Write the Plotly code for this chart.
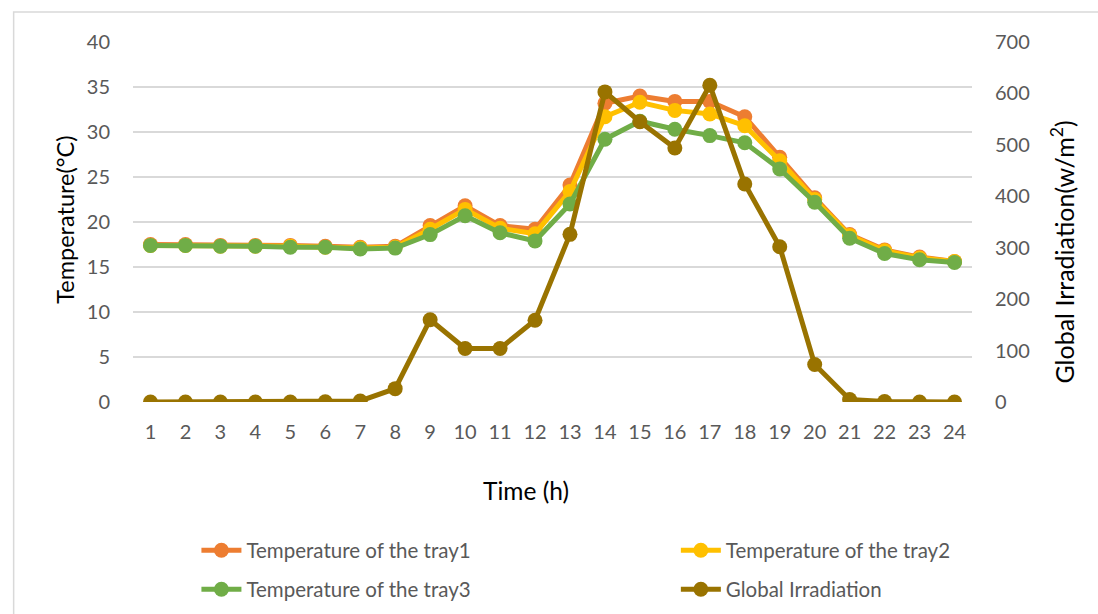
import plotly.graph_objects as go

hours = list(range(1, 25))
tray1 = [17.5, 17.5, 17.4, 17.4, 17.4, 17.3, 17.2, 17.3, 19.6, 21.8, 19.6, 19.2,
         24.1, 33.2, 34.0, 33.4, 33.4, 31.7, 27.2, 22.7, 18.6, 16.9, 16.1, 15.6]
tray2 = [17.4, 17.4, 17.3, 17.3, 17.3, 17.2, 17.1, 17.2, 19.2, 21.4, 19.3, 18.7,
         23.4, 31.7, 33.3, 32.4, 32.0, 30.7, 26.8, 22.5, 18.5, 16.8, 16.0, 15.6]
tray3 = [17.4, 17.4, 17.3, 17.3, 17.2, 17.2, 17.0, 17.1, 18.6, 20.7, 18.8, 17.9,
         22.0, 29.2, 31.2, 30.3, 29.6, 28.8, 25.9, 22.2, 18.2, 16.5, 15.8, 15.5]
irradiation = [0, 0, 0, 0, 0, 0.5, 2, 26, 160, 104, 104, 159,
               326, 603, 545, 494, 616, 424, 302, 73, 5, 1, 0, 0]

FONT = "Lato, 'Open Sans', sans-serif"
GRAY = "#595959"

W, H = 1098, 614
L, R, T, B = 132.5, 125.5, 42, 212.3
pw = W - L - R
ph = H - T - B
def px(x):
    return (x - L) / pw
def py(y):
    return (H - B - y) / ph

fig = go.Figure()

def add(name, y, color, legend, axis="y"):
    fig.add_trace(go.Scatter(
        x=hours, y=y, name=name, mode="lines+markers", yaxis=axis,
        line=dict(color=color, width=5),
        marker=dict(color=color, size=15),
        legend=legend,
    ))

add("Temperature of the tray1", tray1, "#ED7D31", "legend")
add("Temperature of the tray2", tray2, "#FFC000", "legend2")
add("Temperature of the tray3", tray3, "#70AD47", "legend3")
add("Global Irradiation", irradiation, "#997300", "legend4", "y2")

def leg(x, y):
    return dict(x=px(x), y=py(y), xanchor="left", yanchor="middle",
                xref="paper", yref="paper", bgcolor="rgba(0,0,0,0)",
                itemwidth=40,
                font=dict(family=FONT, size=20.5, color=GRAY))

fig.update_layout(
    width=W, height=H,
    margin=dict(l=L, r=R, t=T, b=B, autoexpand=False),
    paper_bgcolor="white", plot_bgcolor="white",
    font=dict(family=FONT, color=GRAY, size=20),
    showlegend=True,
    legend=leg(196, 550),
    legend2=leg(676, 550),
    legend3=leg(196, 589),
    legend4=leg(676, 589),
    xaxis=dict(
        range=[0.5, 24.5], tickmode="array", tickvals=hours,
        ticktext=[str(h) for h in hours],
        showgrid=False, zeroline=False, showline=False,
        ticks="", ticklabelstandoff=16, automargin=False,
        tickfont=dict(size=20, color=GRAY),
    ),
    yaxis=dict(
        range=[0, 40], dtick=5, showgrid=True, gridcolor="#D9D9D9", gridwidth=1.5,
        zeroline=False, showline=False, ticks="", ticklabelstandoff=22,
        automargin=False, tickfont=dict(size=20, color=GRAY),
    ),
    yaxis2=dict(
        range=[0, 700], dtick=100, overlaying="y", side="right",
        showgrid=False, zeroline=False, showline=False, ticks="",
        ticklabelstandoff=22, automargin=False,
        tickfont=dict(size=20, color=GRAY),
    ),
    annotations=[
        dict(text="Temperature(°C)", x=px(65), y=py(220), xref="paper", yref="paper",
             xanchor="center", yanchor="middle",
             showarrow=False, textangle=-90,
             font=dict(size=23.5, color="black", family=FONT)),
        dict(text="Global Irradiation(w/m<sup>2</sup>)", x=px(1063), y=py(252),
             xref="paper", yref="paper", xanchor="center", yanchor="middle",
             showarrow=False, textangle=-90,
             font=dict(size=25, color="black", family=FONT)),
        dict(text="Time (h)", x=px(526), y=py(490), xref="paper", yref="paper",
             xanchor="center", yanchor="middle",
             showarrow=False, font=dict(size=24.5, color="black", family=FONT)),
    ],
    shapes=[dict(type="rect", xref="paper", yref="paper",
                 x0=px(13), y0=py(12), x1=px(1130), y1=py(650),
                 line=dict(color="#D9D9D9", width=1.5), layer="below")],
)

fig.write_html("out.html")
